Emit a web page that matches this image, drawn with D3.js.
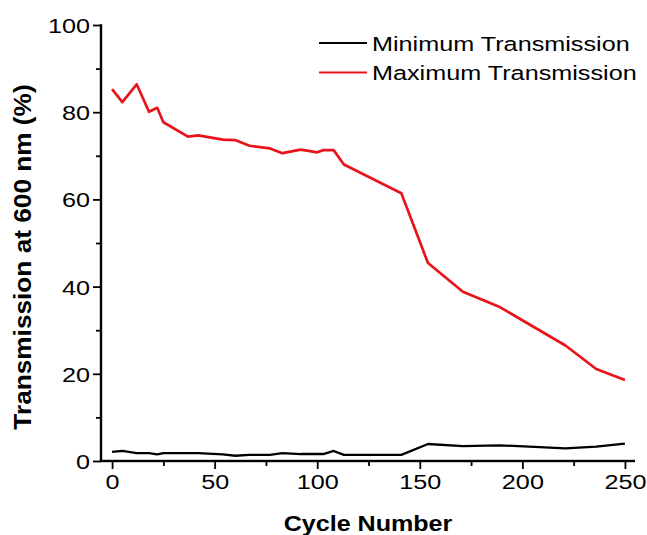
<!DOCTYPE html>
<html>
<head>
<meta charset="utf-8">
<script src="https://cdn.jsdelivr.net/npm/d3@7"></script>
<style>
  html, body { margin: 0; padding: 0; background: #fff; }
  svg text { font-family: "Liberation Sans", Arial, sans-serif; fill: #000; }
</style>
</head>
<body>
<svg id="chart" width="647" height="535"></svg>
<script>
// Cycle numbers at which transmission was measured
const cycles = [0, 5, 12, 18, 22, 25, 37, 42, 54, 60, 67, 77, 83, 92, 100, 103, 108, 113, 141, 154, 171, 189, 221, 236, 250];
// Transmission (%) at 600 nm, bleached state
const maxTransmission = [85.3, 82.3, 86.4, 80.1, 81.0, 77.7, 74.4, 74.7, 73.7, 73.6, 72.3, 71.7, 70.6, 71.4, 70.8, 71.3, 71.3, 68.0, 61.4, 45.4, 38.8, 35.3, 26.5, 21.1, 18.6];
// Transmission (%) at 600 nm, coloured state
const minTransmission = [2.1, 2.3, 1.8, 1.8, 1.5, 1.8, 1.8, 1.8, 1.5, 1.2, 1.4, 1.4, 1.8, 1.6, 1.6, 1.6, 2.3, 1.4, 1.4, 3.9, 3.4, 3.6, 2.9, 3.3, 4.0];

const xMajorTicks = [0, 50, 100, 150, 200, 250];
const xMinorTicks = [25, 75, 125, 175, 225];
const yMajorTicks = [0, 20, 40, 60, 80, 100];
const yMinorTicks = [10, 30, 50, 70, 90];

const seriesNames = ["Minimum Transmission", "Maximum Transmission"];
const seriesColors = ["#000000", "#e8141b"];

const svg = d3.select("#chart");
const x = d3.scaleLinear().domain([-5.4, 254.9]).range([101, 635]);
const y = d3.scaleLinear().domain([0, 100]).range([461, 25]);

const WIDEN = 1.2;

// Minor ticks
const xMinor = svg.append("g").attr("transform", `translate(0,${y(0)})`)
  .call(d3.axisBottom(x).tickValues(xMinorTicks).tickSize(5).tickSizeOuter(0).tickFormat(""));
const yMinor = svg.append("g").attr("transform", `translate(${x.range()[0]},0)`)
  .call(d3.axisLeft(y).tickValues(yMinorTicks).tickSize(5).tickSizeOuter(0).tickFormat(""));

// Major ticks with labels
const xAxis = svg.append("g").attr("transform", `translate(0,${y(0)})`)
  .call(d3.axisBottom(x).tickValues(xMajorTicks).tickSize(8).tickSizeOuter(0).tickPadding(4));
const yAxis = svg.append("g").attr("transform", `translate(${x.range()[0]},0)`)
  .call(d3.axisLeft(y).tickValues(yMajorTicks).tickSize(8).tickSizeOuter(0).tickPadding(3));

[xMinor, yMinor, xAxis, yAxis].forEach(g => {
  g.select(".domain").remove();
  g.selectAll(".tick line").attr("stroke", "#000").attr("stroke-width", 1.8);
});

xAxis.selectAll(".tick text")
  .attr("font-size", 21).attr("font-family", "Liberation Sans, Arial, sans-serif")
  .attr("y", 0).attr("dy", 0)
  .attr("transform", `translate(0,28) scale(${WIDEN},1)`);
yAxis.selectAll(".tick text")
  .attr("font-size", 21).attr("font-family", "Liberation Sans, Arial, sans-serif")
  .attr("x", 0).attr("dy", "0.36em")
  .attr("transform", `translate(-11,0) scale(${WIDEN},1)`);

// Axis lines, drawn as thin filled bars
const AXW = 2.4;
svg.append("rect")
  .attr("x", x.range()[0] - AXW / 2).attr("width", x.range()[1] - x.range()[0] + AXW / 2)
  .attr("y", y(0) - AXW / 2).attr("height", AXW)
  .attr("fill", "#000");
svg.append("rect")
  .attr("x", x.range()[0] - AXW / 2).attr("width", AXW)
  .attr("y", y(100) - 0.8).attr("height", y(0) - y(100) + 0.8)
  .attr("fill", "#000");

// Data lines
const line = vals => d3.line().x((d, i) => x(cycles[i])).y(d => y(d))(vals);

svg.append("path").attr("d", line(minTransmission))
  .attr("fill", "none").attr("stroke", seriesColors[0])
  .attr("stroke-width", 2.3).attr("stroke-linejoin", "round");
svg.append("path").attr("d", line(maxTransmission))
  .attr("fill", "none").attr("stroke", seriesColors[1])
  .attr("stroke-width", 2.7).attr("stroke-linejoin", "round");

// Axis titles
svg.append("text")
  .attr("transform", `translate(368,531) scale(1.14,1)`)
  .attr("text-anchor", "middle").attr("font-size", 22).attr("font-weight", "bold")
  .text("Cycle Number");
svg.append("text")
  .attr("transform", `translate(31,257) rotate(-90) scale(1.14,1)`)
  .attr("text-anchor", "middle").attr("font-size", 23).attr("font-weight", "bold")
  .text("Transmission at 600 nm (%)");

// Legend
const legendRows = [
  { name: seriesNames[0], color: seriesColors[0], y: 43, w: 2.0 },
  { name: seriesNames[1], color: seriesColors[1], y: 72.5, w: 2.2 }
];
const legend = svg.append("g");
legendRows.forEach(r => {
  legend.append("line")
    .attr("x1", 319).attr("x2", 367).attr("y1", r.y).attr("y2", r.y)
    .attr("stroke", r.color).attr("stroke-width", r.w);
  legend.append("text")
    .attr("transform", `translate(372,${r.y + 7.5}) scale(1.23,1)`)
    .attr("font-size", 20.5)
    .text(r.name);
});
</script>
</body>
</html>
